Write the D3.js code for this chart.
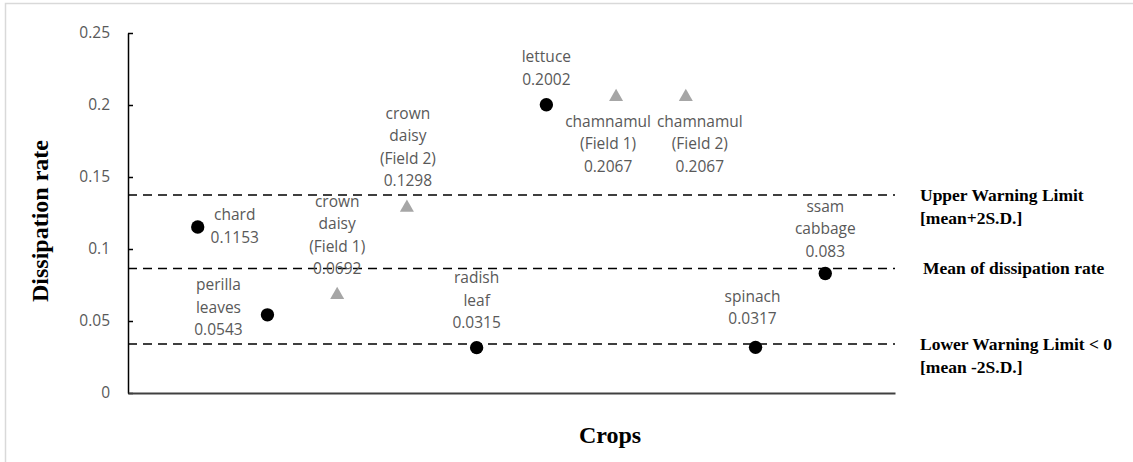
<!DOCTYPE html>
<html>
<head>
<meta charset="utf-8">
<script src="https://cdn.jsdelivr.net/npm/d3@7"></script>
<style>
  body { margin: 0; background: #fff; }
  svg { display: block; }
</style>
</head>
<body>
<svg class="vis-container"></svg>
<script>
// crops in plotting order, with dissipation rates
const crops = ["chard", "perilla leaves", "crown daisy (Field 1)", "crown daisy (Field 2)",
  "radish leaf", "lettuce", "chamnamul (Field 1)", "chamnamul (Field 2)", "spinach", "ssam cabbage"];
const rates = [0.1153, 0.0543, 0.0692, 0.1298, 0.0315, 0.2002, 0.2067, 0.2067, 0.0317, 0.083];
const markers = ["circle", "circle", "triangle", "triangle", "circle", "circle", "triangle", "triangle", "circle", "circle"];
// label text lines shown next to each point
const labelLines = [
  ["chard", "0.1153"],
  ["perilla", "leaves", "0.0543"],
  ["crown", "daisy", "(Field 1)", "0.0692"],
  ["crown", "daisy", "(Field 2)", "0.1298"],
  ["radish", "leaf", "0.0315"],
  ["lettuce", "0.2002"],
  ["chamnamul", "(Field 1)", "0.2067"],
  ["chamnamul", "(Field 2)", "0.2067"],
  ["spinach", "0.0317"],
  ["ssam", "cabbage", "0.083"]
];
const limitValues = [0.1375, 0.0865, 0.034];
const limitText = [
  ["Upper Warning Limit", "[mean+2S.D.]"],
  ["Mean of dissipation rate"],
  ["Lower Warning Limit < 0", "[mean -2S.D.]"]
];
const yTicks = [0, 0.05, 0.1, 0.15, 0.2, 0.25];

// label placement relative to the marker (pixels) - just layout
const labelOffsets = [[37, -12], [-49, -30], [0, -92], [1, -93], [0, -70],
  [0, -48], [-8, 26], [14, 26], [-3, -51], [0, -67]];

const width = 1133, height = 462;
const margin = {top: 33, left: 128, right: 238, bottom: 69};

const svg = d3.select(".vis-container")
  .attr("width", width)
  .attr("height", height);

// outer frame
svg.append("rect")
  .attr("x", 5.5).attr("y", 3.5)
  .attr("width", width + 10).attr("height", height + 10)
  .attr("fill", "none")
  .attr("stroke", "#d9d9d9")
  .attr("stroke-width", 1.5);

const x = d3.scaleLinear().domain([0, crops.length + 1]).range([margin.left, width - margin.right]);
const y = d3.scaleLinear().domain([0, 0.25]).range([height - margin.bottom, margin.top]);

const tickFont = "'Open Sans', sans-serif";
const gray = "#595959";

// y axis, ticks pointing into the plot
const yAxis = svg.append("g")
  .attr("transform", `translate(${margin.left},0)`)
  .call(d3.axisLeft(y).tickValues(yTicks).tickFormat(d => String(d))
    .tickSizeInner(-5).tickSizeOuter(0).tickPadding(18));
yAxis.select(".domain").attr("stroke", "#000").attr("stroke-width", 1.5);
yAxis.selectAll(".tick line").attr("stroke", "#000").attr("stroke-width", 1.5);
yAxis.selectAll(".tick text")
  .attr("fill", gray)
  .style("font-family", tickFont)
  .style("font-size", "15.5px");

// x axis is just the baseline
const xAxis = svg.append("g")
  .attr("transform", `translate(0,${y(0)})`)
  .call(d3.axisBottom(x).tickValues([]).tickSizeOuter(0));
xAxis.select(".domain").attr("stroke", "#404040").attr("stroke-width", 2);

// dashed limit lines
svg.selectAll(".limit")
  .data(limitValues)
  .enter()
  .append("line")
  .attr("class", "limit")
  .attr("x1", x(0)).attr("x2", x(crops.length + 1))
  .attr("y1", d => y(d)).attr("y2", d => y(d))
  .attr("stroke", "#000")
  .attr("stroke-width", 1.5)
  .attr("stroke-dasharray", "9,6");

// limit labels on the right
limitText.forEach((lines, i) => {
  const t = svg.append("text")
    .attr("x", x(crops.length + 1) + (i === 1 ? 28 : 25))
    .attr("y", y(limitValues[i]))
    .style("font-family", "'Liberation Serif', 'Times New Roman', serif")
    .style("font-weight", "bold")
    .style("font-size", "17.5px")
    .attr("fill", "#000");
  lines.forEach((s, j) => {
    t.append("tspan")
      .attr("x", x(crops.length + 1) + (i === 1 ? 28 : 25))
      .attr("dy", j === 0 ? "0.32em" : 23)
      .text(s);
  });
});

// point labels
const lineGap = 22.5;
crops.forEach((c, i) => {
  const px = x(i + 1), py = y(rates[i]);
  const off = labelOffsets[i];
  const t = svg.append("text")
    .attr("text-anchor", "middle")
    .attr("fill", gray)
    .style("font-family", tickFont)
    .style("font-size", "15.5px");
  labelLines[i].forEach((s, j) => {
    t.append("tspan")
      .attr("x", px + off[0])
      .attr("y", py + off[1] + j * lineGap)
      .attr("dy", "0.35em")
      .text(s);
  });
});

// markers
svg.selectAll(".pt")
  .data(rates)
  .enter()
  .append("path")
  .attr("class", "pt")
  .attr("transform", (d, i) => `translate(${x(i + 1)},${y(d) + (markers[i] === "triangle" ? 1.5 : 0)})`)
  .attr("d", (d, i) => markers[i] === "triangle"
    ? d3.symbol(d3.symbolTriangle, 85)()
    : d3.symbol(d3.symbolCircle, 140)())
  .attr("fill", (d, i) => markers[i] === "triangle" ? "#a6a6a6" : "#000");

// axis titles
svg.append("text")
  .attr("x", 610).attr("y", 435)
  .attr("dy", "0.35em")
  .attr("text-anchor", "middle")
  .style("font-family", "'Liberation Serif', 'Times New Roman', serif")
  .style("font-weight", "bold")
  .style("font-size", "24px")
  .text("Crops");

svg.append("text")
  .attr("transform", "translate(40,221) rotate(-90)")
  .attr("dy", "0.35em")
  .attr("text-anchor", "middle")
  .style("font-family", "'Liberation Serif', 'Times New Roman', serif")
  .style("font-weight", "bold")
  .style("font-size", "24px")
  .text("Dissipation rate");
</script>
</body>
</html>
